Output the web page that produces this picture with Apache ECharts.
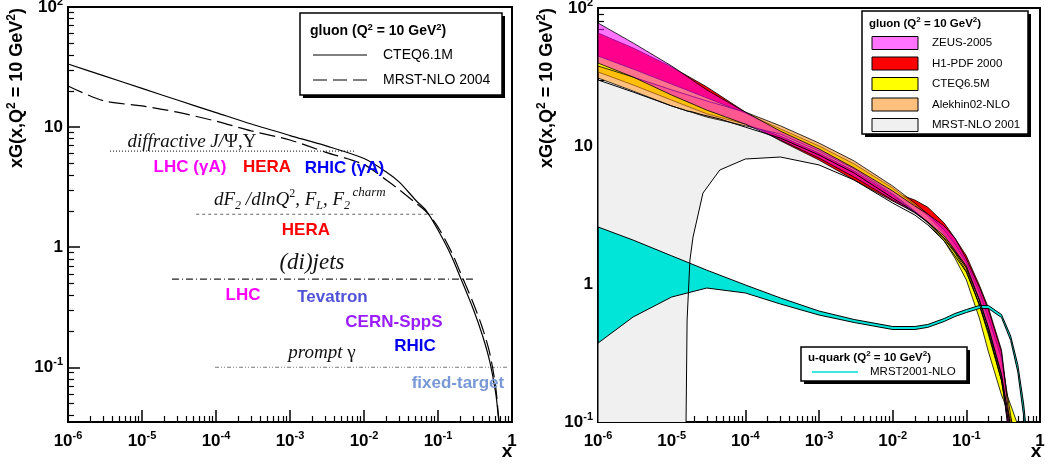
<!DOCTYPE html>
<html><head><meta charset="utf-8">
<script src="https://cdn.jsdelivr.net/npm/echarts@6/dist/echarts.min.js"></script>
<style>html,body{margin:0;padding:0;background:#fff}#c{width:1045px;height:466px}</style>
</head><body><div id="c"></div>
<script>
// ---------------- DATA ----------------
// Left panel: gluon xG(x, Q^2=10 GeV^2)
const xL      = [1e-6, 3e-6, 1e-5, 3e-5, 1e-4, 3e-4, 1e-3, 3e-3, 0.01, 0.02, 0.03, 0.05, 0.07, 0.1, 0.15, 0.2, 0.3, 0.4, 0.5, 0.6, 0.65, 0.7];
const cteq61  = [33.5, 26.8, 21.0, 16.8, 13.2, 10.6, 8.5, 7.0, 5.47, 4.23, 3.48, 2.46, 2.0, 1.39, 0.858, 0.562, 0.304, 0.183, 0.112, 0.062, 0.040, 0.025];
const mrst04  = [22.0, 16.6, 15.0, 13.3, 11.2, 9.3, 7.8, 6.19, 4.87, 3.62, 3.01, 2.33, 1.96, 1.47, 0.927, 0.619, 0.341, 0.211, 0.131, 0.0695, 0.042, 0.027];
// kinematic-reach lines (x range, y level)
const diffX = [3.7e-6, 7.6e-3],  diffY = 6.3;
const dF2X  = [5.4e-5, 0.091],   dF2Y  = 1.88;
const jetsX = [2.54e-5, 0.297],  jetsY = 0.541;
const gamX  = [9.7e-5, 0.88],    gamY  = 0.1;
// annotations (text, x, y)
const annText = ['diffractive J/Ψ,Υ', 'LHC (γA)', 'HERA', 'RHIC (γA)', 'dF2/dlnQ², FL, F2', 'charm', 'HERA', '(di)jets', 'LHC', 'Tevatron', 'CERN-SppS', 'RHIC', 'prompt γ', 'fixed-target'];
const annX    = [4.74e-5, 4.45e-5, 4.89e-4, 5.44e-3, 7.8e-4, 0.0117, 1.64e-3, 1.98e-3, 2.32e-4, 3.75e-3, 0.0254, 0.0489, 2.70e-3, 0.186];
const annY    = [7.5, 4.64, 4.64, 4.55, 2.46, 2.87, 1.39, 0.735, 0.398, 0.383, 0.237, 0.1496, 0.131, 0.0735];

// Right panel: gluon uncertainty bands
const xR     = [1e-6, 3e-6, 1e-5, 3e-5, 1e-4, 3e-4, 1e-3, 3e-3, 0.01, 0.02, 0.03, 0.05, 0.07, 0.1, 0.15, 0.2, 0.3, 0.4, 0.5];
const zeusUp = [77.9, 55.8, 38.0, 25.5, 17.6, 12.8, 9.51, 6.93, 4.72, 3.67, 3.21, 2.63, 2.15, 1.52, 0.951, 0.648, 0.321, 0.0875, 0.038];
const zeusLo = [39.9, 31.6, 23.4, 18.2, 14.4, 11.05, 8.18, 5.96, 4.06, 3.27, 2.81, 2.23, 1.76, 1.35, 0.766, 0.480, 0.219, 0.0627, 0.0272];
const h1Up   = [65.9, 51.3, 37.4, 26.8, 17.6, 12.6, 9.35, 6.70, 4.64, 4.06, 3.60, 2.77, 2.15, 1.60, 0.984, 0.670, 0.333, 0.095, 0.038];
const h1Lo   = [43.4, 32.2, 24.6, 19.5, 15.2, 10.9, 7.92, 5.67, 3.99, 3.32, 2.91, 2.23, 1.71, 1.35, 0.792, 0.505, 0.230, 0.0627, 0.0272];
const cteqUp = [44.9, 36.1, 28.1, 22.3, 17.3, 13.3, 10.0, 7.41, 4.96, 3.74, 3.11, 2.30, 1.73, 1.31, 0.704, 0.427, 0.201, 0.133, 0.095];
const cteqLo = [34.4, 27.7, 21.5, 17.1, 14.4, 11.8, 8.90, 6.59, 4.42, 3.32, 2.77, 2.05, 1.54, 1.07, 0.567, 0.321, 0.157, 0.107, 0.074];
const alekUp = [38.0, 31.6, 25.5, 21.2, 17.6, 14.0, 10.5, 7.79, 5.13, 3.86, 3.21, 2.46, 1.95, 1.44, 0.875, 0.567, 0.291, 0.112, 0.0449];
const alekLo = [31.1, 25.0, 19.5, 16.2, 14.0, 12.2, 9.20, 6.81, 4.49, 3.38, 2.81, 2.12, 1.68, 1.24, 0.704, 0.442, 0.201, 0.074, 0.0321];
const xM     = [1e-6, 3e-6, 1e-5, 1.5e-5, 1.62e-5, 1.77e-5, 1.95e-5, 2.66e-5, 4.5e-5, 1e-4, 3e-4, 1e-3, 3e-3, 0.01, 0.02, 0.03, 0.05, 0.07, 0.1, 0.15, 0.2, 0.3, 0.4, 0.5];
const mrstUp = [30.1, 24.6, 19.5, 18.2, 17.9, 17.8, 17.6, 16.8, 15.7, 13.7, 11.4, 8.61, 6.37, 4.20, 3.32, 2.81, 2.15, 1.71, 1.31, 0.766, 0.480, 0.219, 0.090, 0.040];
const mrstLo = [0.01, 0.01, 0.01, 0.01, 0.548, 1.49, 2.19, 4.56, 6.70, 8.05, 8.32, 7.29, 5.67, 3.86, 3.16, 2.68, 2.05, 1.60, 1.22, 0.716, 0.449, 0.201, 0.080, 0.032];
// u-quark band
const xU  = [1e-6, 3e-6, 1e-5, 3e-5, 1e-4, 3e-4, 1e-3, 3e-3, 0.01, 0.02, 0.03, 0.05, 0.07, 0.1, 0.15, 0.2, 0.3, 0.4, 0.5, 0.6, 0.7];
const uUp = [2.59, 2.08, 1.60, 1.26, 0.984, 0.792, 0.637, 0.553, 0.492, 0.492, 0.509, 0.562, 0.611, 0.653, 0.698, 0.698, 0.601, 0.42, 0.26, 0.135, 0.06];
const uLo = [0.373, 0.577, 0.805, 0.935, 0.861, 0.716, 0.596, 0.526, 0.468, 0.468, 0.485, 0.535, 0.581, 0.621, 0.664, 0.664, 0.572, 0.39, 0.23, 0.11, 0.045];
const vLineX = 1e-4;

// ticks
const xMajorTicks = [1e-6, 1e-5, 1e-4, 1e-3, 1e-2, 1e-1, 1];
const yMajorTicks = [0.1, 1, 10, 100];
function minorTicks(lo, hi) { const o = []; for (let e = lo; e < hi; e++) for (let k = 2; k <= 9; k++) o.push(+(k * Math.pow(10, e)).toPrecision(6)); return o; }
const xMinorTicks  = minorTicks(-6, 0);
const yMinorTicksL = [0.04, 0.05, 0.06, 0.07, 0.08, 0.09].concat(minorTicks(-1, 2));
const yMinorTicksR = minorTicks(-1, 2);

// ---------------- STYLE ----------------
const FONT = 'Liberation Sans, Arial, Helvetica, sans-serif';
const SERIF = 'Liberation Serif, Times New Roman, serif';

function powLabel(v) {
  const e = Math.round(Math.log10(v));
  if (e === 0) return '{b|1}';
  if (e === 1) return '{b|10}';
  return '{b|10}{s|' + e + '}';
}
const tickRich = {
  b: { fontFamily: FONT, fontWeight: 'bold', fontSize: 17, lineHeight: 22, color: '#000' },
  s: { fontFamily: FONT, fontWeight: 'bold', fontSize: 11, lineHeight: 11, verticalAlign: 'top', color: '#000' }
};
function xMajor(gi) {
  return { type: 'log', logBase: 10, gridIndex: gi, min: 1e-6, max: 1, position: 'bottom', offset: 0,
    axisLine: { show: true, onZero: false, lineStyle: { color: '#000', width: 2 } },
    axisTick: { show: true, inside: true, length: 12, customValues: xMajorTicks, lineStyle: { color: '#000', width: 1.5 } },
    axisLabel: { show: true, customValues: xMajorTicks, formatter: powLabel, rich: tickRich, margin: 8 },
    splitLine: { show: false }, minorTick: { show: false }, minorSplitLine: { show: false } };
}
function xMinor(gi) {
  return { type: 'log', logBase: 10, gridIndex: gi, min: 1e-6, max: 1, position: 'bottom', offset: 0,
    axisLine: { show: false },
    axisTick: { show: true, inside: true, length: 6, customValues: xMinorTicks, lineStyle: { color: '#000', width: 1.2 } },
    axisLabel: { show: false }, splitLine: { show: false } };
}
function yMajor(gi, min) {
  return { type: 'log', logBase: 10, gridIndex: gi, min: min, max: 100, position: 'left', offset: 0,
    axisLine: { show: true, onZero: false, lineStyle: { color: '#000', width: 2 } },
    axisTick: { show: true, inside: true, length: 12, customValues: yMajorTicks, lineStyle: { color: '#000', width: 1.5 } },
    axisLabel: { show: true, customValues: yMajorTicks, formatter: powLabel, rich: tickRich, margin: 5 },
    splitLine: { show: false }, minorTick: { show: false } };
}
function yMinor(gi, min, ticks) {
  return { type: 'log', logBase: 10, gridIndex: gi, min: min, max: 100, position: 'left', offset: 0,
    axisLine: { show: false },
    axisTick: { show: true, inside: true, length: 6, customValues: ticks, lineStyle: { color: '#000', width: 1.2 } },
    axisLabel: { show: false }, splitLine: { show: false } };
}

function refLine(name, xs, y, dash, color) {
  return { type: 'line', name: name, xAxisIndex: 0, yAxisIndex: 0, data: xs.map(x => [x, y]),
    symbol: 'none', silent: true, z: 4, lineStyle: { color: color, width: 1.2, type: dash } };
}

function band(name, xs, up, lo, style, z, extra) {
  const s = { type: 'custom', name: name, xAxisIndex: 2, yAxisIndex: 2, coordinateSystem: 'cartesian2d', clip: true, silent: true, z: z,
    data: [[xs[0], up[0]]], encode: { x: 0, y: 1 },
    renderItem: function (params, api) {
      const pts = [];
      for (let i = 0; i < xs.length; i++) pts.push(api.coord([xs[i], up[i]]));
      for (let i = xs.length - 1; i >= 0; i--) pts.push(api.coord([xs[i], lo[i]]));
      const cs = params.coordSys;
      return { type: 'polygon', shape: { points: pts }, style: Object.assign({}, style),
        clipPath: { type: 'rect', shape: { x: cs.x, y: cs.y, width: cs.width, height: cs.height } } };
    } };
  return Object.assign(s, extra || {});
}

const ZEUS_FILL = 'rgba(255,0,255,0.55)';
const ALEK_FILL = 'rgba(255,140,20,0.55)';

// annotation formatting
const INK = '#111';
const itRich = {
  it:  { fontFamily: SERIF, fontStyle: 'italic', fontSize: 19, lineHeight: 24, color: INK },
  itL: { fontFamily: SERIF, fontStyle: 'italic', fontSize: 23, lineHeight: 26, color: INK },
  gr:  { fontFamily: SERIF, fontSize: 19, lineHeight: 24, color: INK },
  sub: { fontFamily: SERIF, fontStyle: 'italic', fontSize: 12, lineHeight: 12, verticalAlign: 'bottom', color: INK },
  sup: { fontFamily: SERIF, fontSize: 12, lineHeight: 12, verticalAlign: 'top', color: INK },
  sm:  { fontFamily: SERIF, fontStyle: 'italic', fontSize: 13, color: INK }
};
const annFormat = {
  0: '{it|diffractive J/}{gr|Ψ,Υ}',
  4: '{it|dF}{sub|2}{it| /dlnQ}{sup|2}{it|, F}{sub|L}{it|, F}{sub|2}',
  5: '{sm|charm}',
  7: '{itL|(di)jets}',
  12: '{it|prompt }{gr|γ}'
};
const annColor = [INK, '#ff00ff', '#ff0000', '#0000ff', INK, INK, '#ff0000', INK, '#ff00ff', '#5252d8', '#9a1cff', '#0000ee', INK, '#7898d6'];

const annData = annText.map(function (t, i) {
  const f = annFormat[i];
  return { value: [annX[i], annY[i]], name: t,
    label: f ? { formatter: f, rich: itRich, opacity: 1 } :
      { formatter: t, color: annColor[i], fontFamily: FONT, fontWeight: 'bold', fontSize: 17, opacity: 1 } };
});

// graphic helpers
function gText(x, y, text, opts) {
  return Object.assign({ type: 'text', x: x, y: y, z: 101, silent: true,
    style: Object.assign({ text: text, fill: '#000', font: '14px ' + FONT, align: 'left', verticalAlign: 'middle' }, opts && opts.style) },
    opts && opts.el);
}
function supRich(size, supSize) {
  return { t: { fontFamily: FONT, fontWeight: 'bold', fontSize: size, lineHeight: size + 4, fill: '#000' },
           s: { fontFamily: FONT, fontWeight: 'bold', fontSize: supSize, lineHeight: supSize, verticalAlign: 'top', fill: '#000' } };
}
const yTitle = '{t|xG(x,Q}{s|2}{t| = 10 GeV}{s|2}{t|)}';
const gTitle = '{t|gluon (Q}{s|2}{t| = 10 GeV}{s|2}{t|)}';
const uTitle = '{t|u-quark (Q}{s|2}{t| = 10 GeV}{s|2}{t|)}';

const graphics = [
  // axis titles
  { type: 'text', x: 17, y: 8, rotation: Math.PI / 2, z: 50, silent: true, style: { text: yTitle, rich: supRich(18, 12), align: 'right', verticalAlign: 'middle' } },
  { type: 'text', x: 547, y: 8, rotation: Math.PI / 2, z: 50, silent: true, style: { text: yTitle, rich: supRich(18, 12), align: 'right', verticalAlign: 'middle' } },
  gText(507, 452, 'x', { style: { font: 'bold 19px ' + FONT, align: 'center' } }),
  gText(1036, 452, 'x', { style: { font: 'bold 19px ' + FONT, align: 'center' } }),
  // left legend
  { type: 'rect', z: 100, silent: true, shape: { x: 303, y: 16, width: 202, height: 82 }, style: { fill: '#000' } },
  { type: 'rect', z: 100, silent: true, shape: { x: 300, y: 13, width: 202, height: 82 }, style: { fill: '#fff', stroke: '#000', lineWidth: 1.5 } },
  { type: 'text', x: 310, y: 31, z: 101, silent: true, style: { text: gTitle, rich: supRich(14, 9.5), align: 'left', verticalAlign: 'middle' } },
  { type: 'line', z: 101, silent: true, shape: { x1: 313, y1: 55, x2: 367, y2: 55 }, style: { stroke: '#000', lineWidth: 1.2 } },
  gText(383, 55, 'CTEQ6.1M'),
  { type: 'line', z: 101, silent: true, shape: { x1: 313, y1: 80, x2: 367, y2: 80 }, style: { stroke: '#000', lineWidth: 1.2, lineDash: [14, 6] } },
  gText(383, 80, 'MRST-NLO 2004'),
  // right gluon legend
  { type: 'rect', z: 100, silent: true, shape: { x: 865, y: 14, width: 166, height: 123 }, style: { fill: '#000' } },
  { type: 'rect', z: 100, silent: true, shape: { x: 862, y: 11, width: 166, height: 123 }, style: { fill: '#fff', stroke: '#000', lineWidth: 1.5 } },
  { type: 'text', x: 869, y: 24, z: 101, silent: true, style: { text: gTitle, rich: supRich(11.5, 8), align: 'left', verticalAlign: 'middle' } }
];
const legRows = [['ZEUS-2005', ZEUS_FILL], ['H1-PDF 2000', '#ff0000'], ['CTEQ6.5M', '#ffff00'], ['Alekhin02-NLO', ALEK_FILL], ['MRST-NLO 2001', '#f0f0f0']];
const legRowY = [43, 63.5, 84, 104.5, 125];
legRows.forEach(function (r, i) {
  graphics.push({ type: 'rect', z: 101, silent: true, shape: { x: 872, y: legRowY[i] - 6.5, width: 46, height: 13 }, style: { fill: r[1], stroke: '#000', lineWidth: 1 } });
  graphics.push(gText(932, legRowY[i], r[0], { style: { font: '11.5px ' + FONT } }));
});
graphics.push(
  { type: 'rect', z: 100, silent: true, shape: { x: 804, y: 350, width: 166, height: 34 }, style: { fill: '#000' } },
  { type: 'rect', z: 100, silent: true, shape: { x: 801, y: 347, width: 166, height: 34 }, style: { fill: '#fff', stroke: '#000', lineWidth: 1.5 } },
  { type: 'text', x: 808, y: 358, z: 101, silent: true, style: { text: uTitle, rich: supRich(11.5, 8), align: 'left', verticalAlign: 'middle' } },
  { type: 'line', z: 101, silent: true, shape: { x1: 812, y1: 372, x2: 858, y2: 372 }, style: { stroke: '#40e6e0', lineWidth: 2 } },
  gText(870, 372, 'MRST2001-NLO', { style: { font: '11.5px ' + FONT } })
);

const option = {
  animation: false,
  backgroundColor: '#ffffff',
  grid: [
    { left: 68, top: 7, width: 444, height: 415, show: true, borderColor: '#000', borderWidth: 2, backgroundColor: 'rgba(0,0,0,0)', containLabel: false, outerBoundsMode: 'none' },
    { left: 598, top: 8, width: 442, height: 414, show: true, borderColor: '#000', borderWidth: 2, backgroundColor: 'rgba(0,0,0,0)', containLabel: false, outerBoundsMode: 'none' }
  ],
  xAxis: [xMajor(0), xMinor(0), xMajor(1), xMinor(1)],
  yAxis: [yMajor(0, 0.035), yMinor(0, 0.035, yMinorTicksL), yMajor(1, 0.1), yMinor(1, 0.1, yMinorTicksR)],
  series: [
    // left panel
    { type: 'line', name: 'CTEQ6.1M', xAxisIndex: 0, yAxisIndex: 0, data: xL.map((x, i) => [x, cteq61[i]]), symbol: 'none', smooth: 0.3, silent: true, clip: true, z: 5,
      lineStyle: { color: '#000', width: 1.2 } },
    { type: 'line', name: 'MRST-NLO 2004', xAxisIndex: 0, yAxisIndex: 0, data: xL.map((x, i) => [x, mrst04[i]]), symbol: 'none', smooth: 0.3, silent: true, clip: true, z: 5,
      lineStyle: { color: '#000', width: 1.2, type: [16, 6] } },
    refLine('diffractive', diffX, diffY, [1, 2], '#333'),
    refLine('dF2', dF2X, dF2Y, [3, 3], '#666'),
    refLine('dijets', jetsX, jetsY, [7, 3, 1, 3], '#222'),
    refLine('prompt', gamX, gamY, [4, 2, 1, 2, 1, 2], '#777'),
    { type: 'scatter', name: 'labels', xAxisIndex: 0, yAxisIndex: 0, symbolSize: 0, silent: true, z: 6,
      itemStyle: { opacity: 1 }, emphasis: { disabled: true },
      label: { show: true, position: 'inside', textBorderWidth: 0, opacity: 1 }, data: annData },
    // right panel
    band('MRST-NLO 2001', xM, mrstUp, mrstLo, { fill: '#f0f0f0', stroke: 'none' }, 2, {
      markLine: { silent: true, symbol: ['none', 'none'], label: { show: false }, lineStyle: { color: '#a8a8a8', type: [14, 5], width: 1.2 }, data: [{ xAxis: vLineX }] } }),
    band('H1-PDF 2000', xR, h1Up, h1Lo, { fill: '#ff0000', stroke: '#000', lineWidth: 0.8 }, 3),
    band('CTEQ6.5M', xR, cteqUp, cteqLo, { fill: '#ffff00', stroke: '#000', lineWidth: 0.8 }, 4),
    band('Alekhin02-NLO', xR, alekUp, alekLo, { fill: ALEK_FILL, stroke: '#000', lineWidth: 0.8 }, 5),
    band('ZEUS-2005', xR, zeusUp, zeusLo, { fill: ZEUS_FILL, stroke: '#000', lineWidth: 0.8 }, 6),
    band('u-quark MRST2001-NLO', xU, uUp, uLo, { fill: '#00e5d8', stroke: '#000', lineWidth: 1 }, 7),
    band('MRST-NLO 2001 outline', xM, mrstUp, mrstLo, { fill: 'none', stroke: '#000', lineWidth: 1 }, 8)
  ],
  graphic: graphics
};
const chart = echarts.init(document.getElementById('c'), null, { renderer: 'canvas' });
chart.setOption(option);
</script>
</body></html>
